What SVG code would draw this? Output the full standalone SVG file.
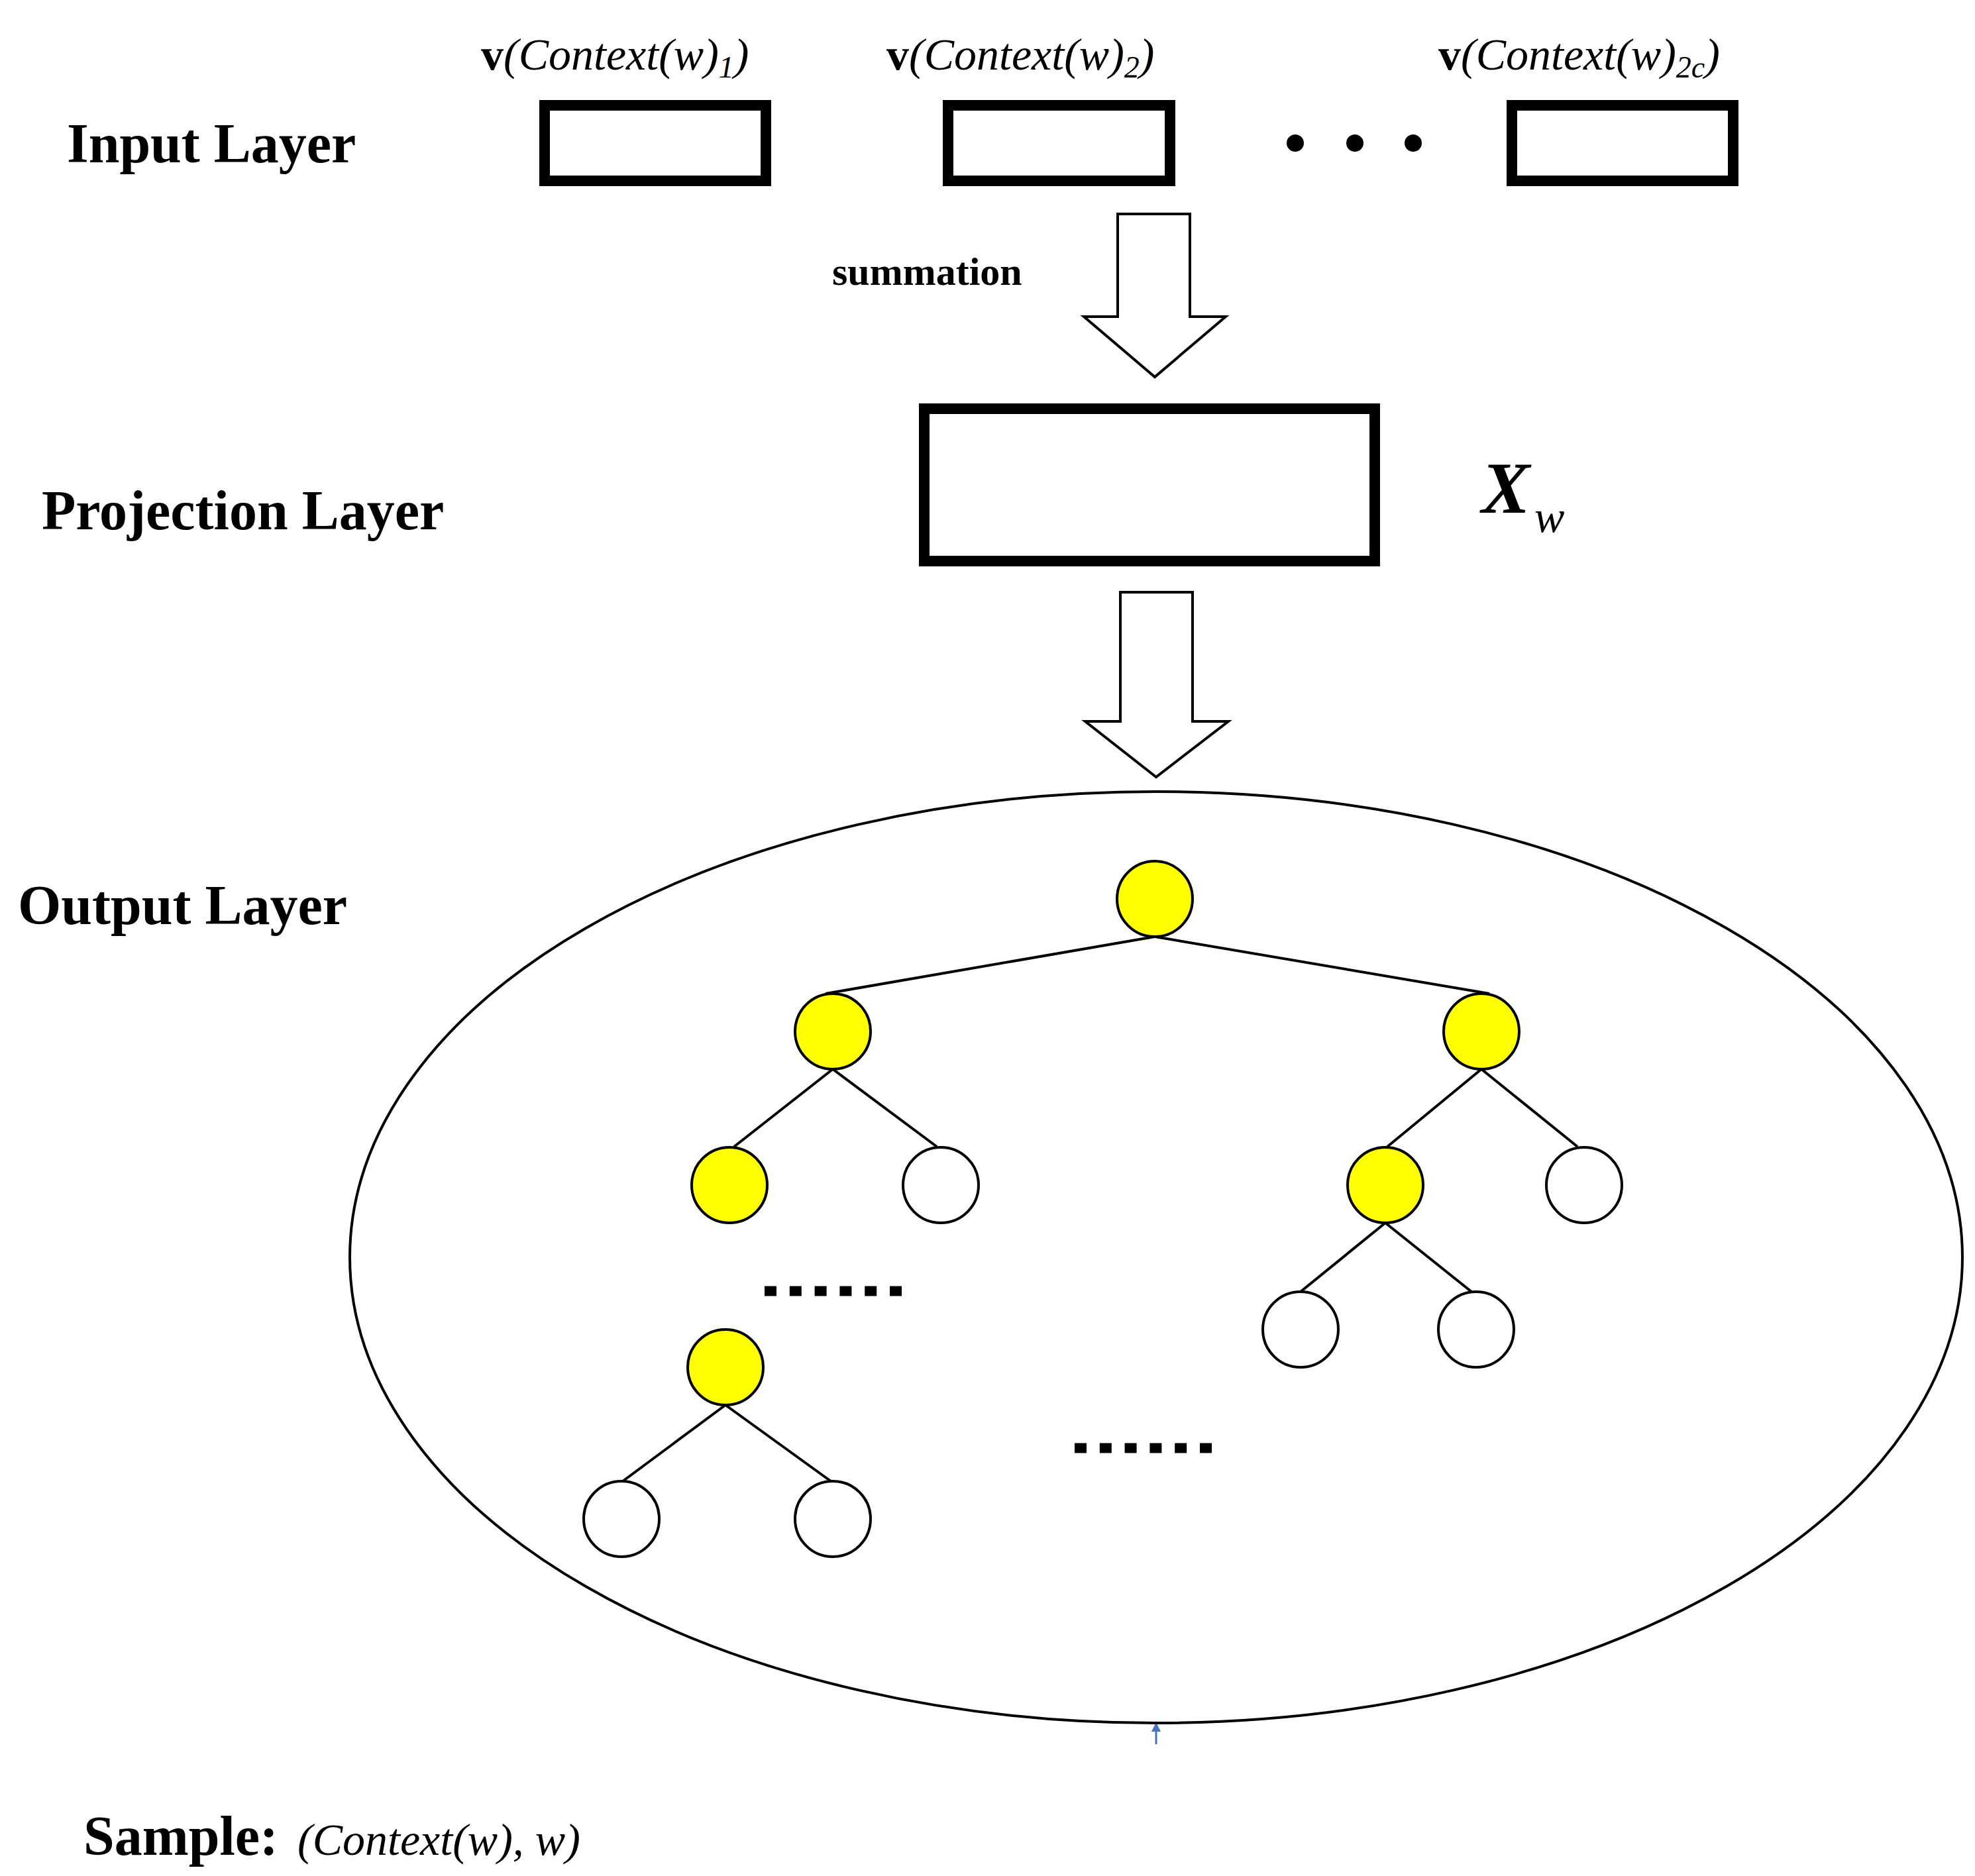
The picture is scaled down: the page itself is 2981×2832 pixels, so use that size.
<svg xmlns="http://www.w3.org/2000/svg" width="2981" height="2832" viewBox="0 0 2981 2832">
<style>
.lbl{font-family:"Liberation Serif",serif;font-weight:bold;font-size:84px;fill:#000}
.m{font-family:"Liberation Serif",serif;font-style:italic;font-size:68px;fill:#000}
.mb{font-style:normal;font-weight:bold}
.box{fill:#fff;stroke:#000;stroke-width:16}
.arr{fill:#fff;stroke:#000;stroke-width:4}
.e{stroke:#000;stroke-width:4;fill:none}
.y{fill:#ffff00;stroke:#000;stroke-width:4}
.w{fill:#fff;stroke:#000;stroke-width:4}
.dots{stroke:#000;stroke-width:15;stroke-dasharray:18 19.8}
</style>
<rect width="2981" height="2832" fill="#fff"/>
<text class="lbl" x="101" y="245">Input Layer</text>
<text class="lbl" x="63" y="799">Projection Layer</text>
<text class="lbl" x="27" y="1395">Output Layer</text>
<g id="in1"><rect class="box" x="822" y="159" width="334" height="114"/><text class="m" x="726" y="105"><tspan class="mb">v</tspan>(Context(w)<tspan font-size="46" dy="12">1</tspan><tspan dy="-12">)</tspan></text></g>
<g id="in2"><rect class="box" x="1431" y="159" width="335" height="114"/><text class="m" x="1338" y="105"><tspan class="mb">v</tspan>(Context(w)<tspan font-size="46" dy="12">2</tspan><tspan dy="-12">)</tspan></text></g>
<g id="in3"><rect class="box" x="2282" y="159" width="334" height="114"/><text class="m" x="2171" y="105"><tspan class="mb">v</tspan>(Context(w)<tspan font-size="46" dy="12">2c</tspan><tspan dy="-12">)</tspan></text></g>
<g id="ellipsis"><circle cx="1955" cy="216" r="13"/><circle cx="2045" cy="216" r="13"/><circle cx="2133" cy="216" r="13"/></g>
<g id="proj"><rect class="box" x="1395" y="617" width="680" height="230"/>
<text x="2236" y="774" font-family="Liberation Serif,serif" font-weight="bold" font-style="italic" font-size="110">X</text><text class="m" x="2316" y="803" font-size="72">w</text></g>
<g id="connectors">
<path class="arr" d="M1687,323 H1796 V478 H1850 L1743,569 L1636,478 H1687 Z"/>
<text x="1256" y="430" font-family="Liberation Serif,serif" font-weight="bold" font-size="60">summation</text>
<path class="arr" d="M1691,894 H1800 V1089 H1854 L1745,1173 L1638,1089 H1691 Z"/>
<g class="e">
<line x1="1743" y1="1414" x2="1246" y2="1500"/><line x1="1743" y1="1414" x2="2248" y2="1500"/>
<line x1="1257" y1="1614" x2="1108" y2="1731"/><line x1="1257" y1="1614" x2="1414" y2="1731"/>
<line x1="2236" y1="1614" x2="2094" y2="1731"/><line x1="2236" y1="1614" x2="2381" y2="1731"/>
<line x1="2091" y1="1846" x2="1963" y2="1950"/><line x1="2091" y1="1846" x2="2221" y2="1950"/>
<line x1="1095" y1="2121" x2="940" y2="2236"/><line x1="1095" y1="2121" x2="1254" y2="2236"/>
</g>
<path d="M1745,2633 V2610" stroke="#4472c4" stroke-width="3"/><path d="M1738,2614 L1745,2600 L1752,2614 Z" fill="#4472c4"/>
</g>
<g id="output"><ellipse class="e" cx="1745" cy="1898" rx="1217" ry="703"/>
<line class="dots" x1="1154" y1="1949" x2="1361" y2="1949"/>
<line class="dots" x1="1622" y1="2186" x2="1829" y2="2186"/></g>
<g id="n0"><circle class="y" cx="1743" cy="1357" r="57"/></g>
<g id="n1"><circle class="y" cx="1257" cy="1557" r="57"/></g>
<g id="n2"><circle class="y" cx="2236" cy="1557" r="57"/></g>
<g id="n3"><circle class="y" cx="1101" cy="1789" r="57"/></g>
<g id="n4"><circle class="w" cx="1420" cy="1789" r="57"/></g>
<g id="n5"><circle class="y" cx="2091" cy="1789" r="57"/></g>
<g id="n6"><circle class="w" cx="2391" cy="1789" r="57"/></g>
<g id="n7"><circle class="w" cx="1963" cy="2007" r="57"/></g>
<g id="n8"><circle class="w" cx="2228" cy="2007" r="57"/></g>
<g id="n9"><circle class="y" cx="1095" cy="2064" r="57"/></g>
<g id="n10"><circle class="w" cx="938" cy="2293" r="57"/></g>
<g id="n11"><circle class="w" cx="1257" cy="2293" r="57"/></g>
<g id="sample"><text class="lbl" x="126" y="2800">Sample:</text><text class="m" x="449" y="2800">(Context(w), w)</text></g>
</svg>
